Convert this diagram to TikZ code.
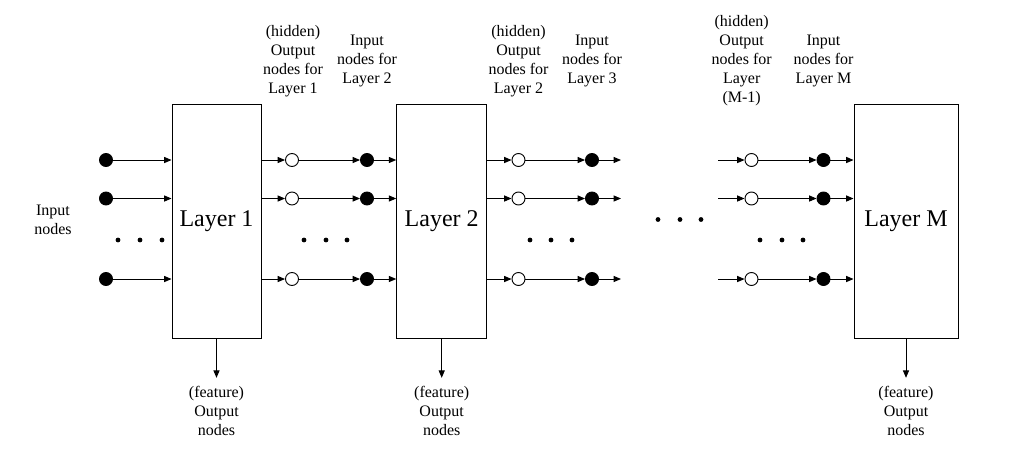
\documentclass[tikz,border=0pt]{standalone}
\usepackage{fontspec}
\setmainfont{Liberation Serif}
\usetikzlibrary{arrows.meta}

\tikzset{
  full/.style={circle, draw, fill=black, inner sep=0pt, minimum size=9.75pt},
  hollow/.style={circle, draw, fill=white, inner sep=0pt, minimum size=9.75pt},
  layerbox/.style={draw, minimum height=175.5pt, font=\rmfamily\fontsize{18}{21}\selectfont},
  lbl/.style={align=center, inner sep=0pt, font=\rmfamily\fontsize{12}{14.25}\selectfont},
  arr/.style={-{Triangle[length=5.5pt,width=4.5pt]}},
}

\begin{document}
\begin{tikzpicture}[x=0.75pt, y=-0.75pt, line width=0.7pt]
	\useasboundingbox (0,0) rectangle (1031,461);

	% layers
	\node[layerbox, minimum width=66.75pt] (L1) at (216.5,221) {Layer 1};
	\node[layerbox, minimum width=67.5pt] (L2) at (441.7,221) {Layer 2};
	\node[layerbox, minimum width=78pt] (LM) at (906,221) {Layer M};

	% node rows
	\foreach \r/\y in {1/160, 2/198.5, 3/279}{
		\node[full] (in\r) at (106,\y) {};
		\node[hollow] (ha\r) at (292,\y) {};
		\node[full] (na\r) at (367,\y) {};
		\node[hollow] (hb\r) at (518.5,\y) {};
		\node[full] (nb\r) at (592,\y) {};
		\coordinate (e\r) at (621,\y);
		\coordinate (s\r) at (718,\y);
		\node[hollow] (hm\r) at (751.5,\y) {};
		\node[full] (nm\r) at (823.5,\y) {};
		\draw[arr] (in\r) -- (in\r -| L1.west);
		\draw[arr] (ha\r -| L1.east) -- (ha\r);
		\draw[arr] (ha\r) -- (na\r);
		\draw[arr] (na\r) -- (na\r -| L2.west);
		\draw[arr] (hb\r -| L2.east) -- (hb\r);
		\draw[arr] (hb\r) -- (nb\r);
		\draw[arr] (nb\r) -- (e\r);
		\draw[arr] (s\r) -- (hm\r);
		\draw[arr] (hm\r) -- (nm\r);
		\draw[arr] (nm\r) -- (nm\r -| LM.west);
	}

	% dots
	\foreach \x in {118,140,162,304,326,347,530,551,572,760,782,803}
		\fill (\x,240) circle (1.8pt);
	\foreach \x in {658,680,701}
		\fill (\x,219.5) circle (1.8pt);

	% labels
	\node[lbl] (inlbl) at (53,220) {Input\\nodes};
	\node[lbl] (ha) at (293,61) {(hidden)\\Output\\nodes for\\Layer 1};
	\node[lbl] (na) at (367,61) {Input\\nodes for\\Layer 2};
	\node[lbl] (hb) at (518.5,61) {(hidden)\\Output\\nodes for\\Layer 2};
	\node[lbl] (nb) at (592,61) {Input\\nodes for\\Layer 3};
	\node[lbl] (hm) at (741.7,61) {(hidden)\\Output\\nodes for\\Layer\\(M-1)};
	\node[lbl] (nm) at (823.5,61) {Input\\nodes for\\Layer M};

	% feature outputs
	\node[lbl] (f1) at (216.5,411) {(feature)\\Output\\nodes};
	\node[lbl] (f2) at (441.7,411) {(feature)\\Output\\nodes};
	\node[lbl] (fM) at (906,411) {(feature)\\Output\\nodes};
	\draw[arr, shorten >=6pt] (L1.south) -- (f1.north);
	\draw[arr, shorten >=6pt] (L2.south) -- (f2.north);
	\draw[arr, shorten >=6pt] (LM.south) -- (fM.north);
\end{tikzpicture}
\end{document}
